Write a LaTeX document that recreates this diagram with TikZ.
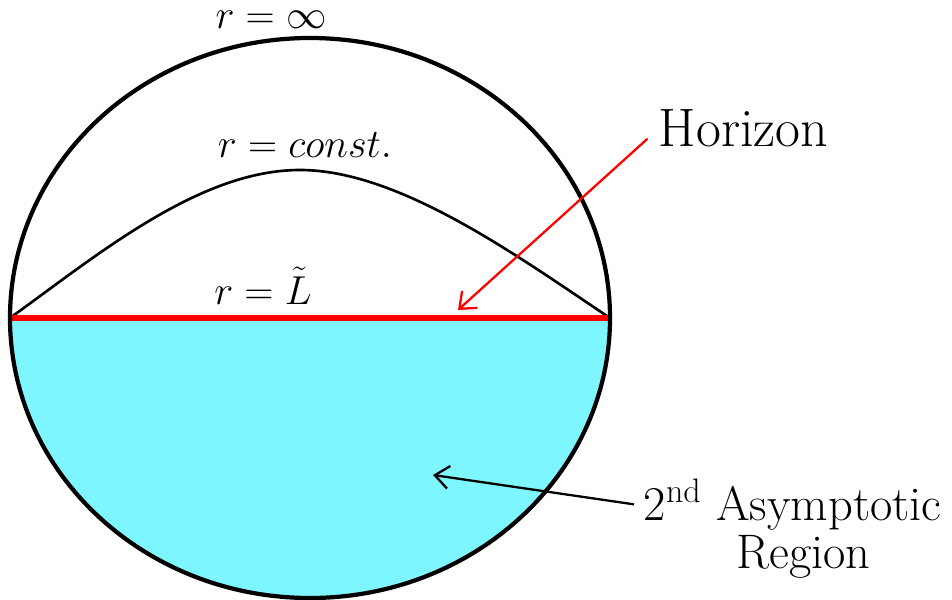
\documentclass[tikz,border=0pt]{standalone}
\usepackage{fix-cm}
\usepackage{fontspec}
\usepackage{tikz}
\usetikzlibrary{arrows.meta, positioning}
\definecolor{regioncyan}{RGB}{126,246,255}
\tikzset{
  rim/.style = {draw=black, line width=2.4pt},
  horline/.style = {draw=red, line width=3pt},
  rcurve/.style = {draw=black, line width=1.5pt},
  redarrow/.style = {-{Straight Barb[length=8pt, width=13pt]}, draw=red, line width=1.3pt},
  blkarrow/.style = {-{Straight Barb[length=8pt, width=13pt]}, draw=black, line width=1.3pt},
  rlabel/.style = {font=\fontsize{23}{27}\selectfont, anchor=base, inner sep=0pt},
  bigtext/.style = {font=\fontsize{30.8}{36}\selectfont, inner sep=2pt},
  midtext/.style = {font=\fontsize{27.6}{32}\selectfont, inner sep=2pt}
}

\begin{document}
\begin{tikzpicture}[x=0.02cm, y=0.02cm]
  \useasboundingbox (0,0) rectangle (952,599);
  % Points on the rim
  \coordinate (L) at (10,281);
  \coordinate (R) at (610,281);
  \coordinate (peak) at (300,429);
  % Lower half: 2nd asymptotic region
  \fill[regioncyan] (L) arc[start angle=180, end angle=360, x radius=300, y radius=280] -- cycle;
  % r = const. curve
  \draw[rcurve] (L) .. controls (100,346) and (200,429) .. (peak)
                    .. controls (400,429) and (520,341) .. (R);
  % Horizon
  \draw[horline] (L) -- (R);
  % Outer rim
  \draw[rim] (310,281) ellipse [x radius=300, y radius=280];
  % Labels
  \node[rlabel] (rinf)   at (271,570) {$r=\infty$};
  \node[rlabel] (rconst) at (305,441) {$r=const.$};
  \node[rlabel] (rtil)   at (263,295) {$r=\tilde{L}$};
  % Pointers
  \node[bigtext, anchor=base west] (hor) at (655,452) {Horizon};
  \coordinate (hortip) at (458,289);
  \draw[redarrow] ([xshift=-0.15cm, yshift=-0.2cm]hor.west) -- (hortip);
  \node[midtext, anchor=base west] (asym) at (640,79) {2\textsuperscript{nd} Asymptotic};
  \node[midtext, below=-1pt of asym, xshift=6.2pt] (region) {Region};
  \coordinate (asymtip) at (433,124);
  \draw[blkarrow] ([xshift=-0.12cm]asym.west) -- (asymtip);
\end{tikzpicture}
\end{document}
